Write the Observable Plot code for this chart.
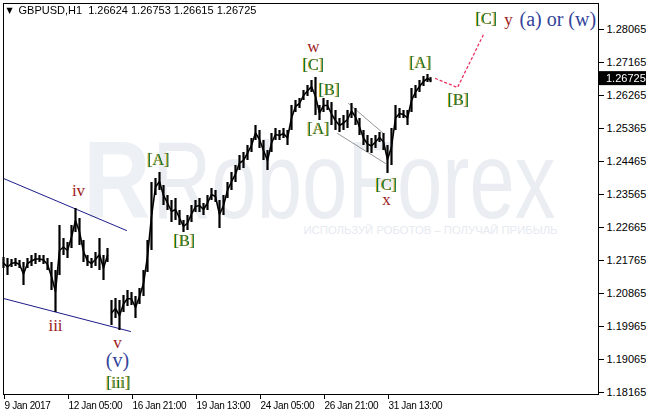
<!DOCTYPE html>
<html><head><meta charset="utf-8">
<script src="https://cdn.jsdelivr.net/npm/d3@7"></script>
<script src="https://cdn.jsdelivr.net/npm/@observablehq/plot@0.6"></script>
<style>body{margin:0;background:#fff}svg{display:block}</style>
</head><body><div id="chart"></div>
<script>
// ---- data (hour-bar index, price) ----
const barIdx = [0,4,8,12,16,20,24,28,32,36,40,44,48,52,56,60,64,68,72,76,80,84,88,92,96,100,104,
 108,112,116,120,124,128,132,136,140,144,148,152,156,160,164,168,172,176,180,184,188,192,196,200,
 204,208,212,216,220,224,228,232,236,240,244,248,252,256,260,264,268,272,276,280,284,288,292,296,
 300,304,308,312,316,320,324,328,332,336,340,344,348,352,356,360,364,368,372,376,380,384,388,392,
 396,400,404,408,412,416,420,424,427];
const barHigh = [1.21847,1.21820,1.21792,1.21820,1.21765,1.21711,1.21820,1.21901,1.21956,1.21901,1.21901,1.21820,1.21711,1.21492,1.22720,1.22365,1.22256,1.22720,1.23183,1.22911,1.22311,1.21901,1.21820,1.21983,1.22365,1.21901,1.22092,
 1.20674,1.20729,1.20674,1.20811,1.20947,1.20892,1.20783,1.21002,1.21492,1.22311,1.23892,1.24002,1.24165,1.23811,1.23538,1.23401,1.23456,1.23129,1.22856,1.22992,1.23265,1.23401,1.23456,1.23320,
 1.23538,1.23729,1.23674,1.23401,1.23538,1.23892,1.24165,1.24356,1.24629,1.24711,1.24901,1.25092,1.25447,1.25311,1.25038,1.24765,1.25229,1.25365,1.25311,1.25365,1.25311,1.25992,1.26129,1.26183,
 1.26401,1.26538,1.26674,1.26756,1.25992,1.26183,1.26129,1.26074,1.25856,1.25638,1.25720,1.25856,1.26047,1.25911,1.25638,1.25311,1.25174,1.25092,1.25174,1.25256,1.25229,1.24901,1.25365,1.25992,
 1.25911,1.25856,1.25856,1.26456,1.26538,1.26674,1.26783,1.26838,1.26753];
const barLow = [1.21547,1.21356,1.21574,1.21601,1.21547,1.21083,1.21547,1.21601,1.21656,1.21711,1.21656,1.21492,1.20947,1.20347,1.21356,1.21901,1.21820,1.22092,1.22529,1.22174,1.21711,1.21601,1.21547,1.21601,1.21492,1.21220,1.21711,
 1.19992,1.20183,1.19856,1.20347,1.20511,1.20538,1.20183,1.20565,1.20783,1.21438,1.22038,1.23538,1.23674,1.23265,1.23129,1.22801,1.22856,1.22720,1.22529,1.22583,1.22801,1.23074,1.23074,1.22992,
 1.23129,1.23401,1.23347,1.22638,1.22992,1.23456,1.23674,1.23892,1.24220,1.24274,1.24492,1.24711,1.25038,1.24820,1.24492,1.24220,1.24711,1.25038,1.25038,1.25092,1.24901,1.25311,1.25801,1.25911,
 1.26129,1.26238,1.26347,1.25720,1.25583,1.25801,1.25856,1.25447,1.25311,1.25256,1.25311,1.25365,1.25638,1.25447,1.25174,1.24901,1.24711,1.24683,1.24820,1.24983,1.24765,1.24138,1.24356,1.25311,
 1.25638,1.25638,1.25447,1.25801,1.26183,1.26347,1.26511,1.26620,1.26615];
const sessionBreakIdx = 106; // weekend gap (16 Jan open)

const priceTicks = [1.28065,1.27165,1.26265,1.25365,1.24465,1.23565,1.22665,1.21765,1.20865,1.19965,1.19065,1.18165];
const timeTickIdx = [0,64,128,192,256,320,384];
const timeTickLabels = ["9 Jan 2017","12 Jan 05:00","16 Jan 21:00","19 Jan 13:00","24 Jan 05:00","26 Jan 21:00","31 Jan 13:00"];
const lastPrice = 1.26725;
const titleText = "GBPUSD,H1\u00a0\u00a01.26624 1.26753 1.26615 1.26725";

// channel lines [x1, y1, x2, y2]
const blueLines = [[0,1.24002,123,1.22583],[0,1.20729,127,1.19829]];
const grayLines = [[345,1.26047,380,1.25229],[334,1.25229,382,1.24411]];
const forecastX = [432,454,480];
const forecastY = [1.26729,1.26483,1.27929];

// wave labels
const redLabels = ["iv","iii","v","w","x","y"];
const redX = [75,52,114,310,383,505];
const redY = [1.23674,1.19992,1.19529,1.27601,1.23429,1.28338];
const navyLabels = ["(v)","(a) or (w)"];
const navyX = [114,516];
const navyY = [1.19038,1.28338];
const greenLabels = ["[iii]","[A]","[B]","[C]","[B]","[A]","[C]","[A]","[B]","[C]"];
const greenX = [115,155,181,310,326,315,383,417,455,483];
const greenY = [1.18438,1.24520,1.22311,1.27111,1.26429,1.25365,1.23838,1.27165,1.26156,1.28365];

// ---- build ----
const bars = barIdx.map((x,i)=>({x, hi:barHigh[i], lo:barLow[i], mid:(barHigh[i]+barLow[i])/2, seg: x < sessionBreakIdx ? 0 : 1}));
const segs = (arr)=>arr.flatMap((s,k)=>[{x:s[0],y:s[1],k},{x:s[2],y:s[3],k}]);
const forecast = forecastX.map((x,i)=>({x,y:forecastY[i]}));
const red = redLabels.map((t,i)=>({t,x:redX[i],y:redY[i]}));
const navy = navyLabels.map((t,i)=>({t,x:navyX[i],y:navyY[i]}));
const green = greenLabels.map((t,i)=>({t,x:greenX[i],y:greenY[i]}));
const lblMap = new Map(timeTickIdx.map((d,i)=>[d,timeTickLabels[i]]));
const serif = "Liberation Serif";
const sans = "Liberation Sans";

const chart = Plot.plot({
  width: 646, height: 414,
  marginLeft: 3, marginRight: 48, marginTop: 3, marginBottom: 20,
  x: {domain:[0,595]},
  y: {domain:[1.181105,1.287741]},
  style: {background:"#fff", fontFamily: sans},
  marks: [
    Plot.text(["R"], {x: 80, y: 1.23892, textAnchor:"start", fontSize:110, fontWeight:900, fill:"#edf0f5", fontFamily:sans, className:"wmlogo"}),
    Plot.text(["RoboForex"], {x: 149, y: 1.23892, textAnchor:"start", fontSize:110, fill:"#eaeef3", fontFamily:sans, className:"wm"}),
    Plot.text(["ИСПОЛЬЗУЙ РОБОТОВ – ПОЛУЧАЙ ПРИБЫЛЬ"], {x: 427, y: 1.22583, fontSize:11, fill:"#e6eaf0", fontFamily:sans, className:"slogan"}),
    Plot.line(segs(blueLines), {x:"x", y:"y", z:"k", stroke:"#1c1c8a", strokeWidth:1}),
    Plot.line(segs(grayLines), {x:"x", y:"y", z:"k", stroke:"#7a7a7a", strokeWidth:0.8}),
    Plot.ruleX(bars, {x:"x", y1:"lo", y2:"hi", stroke:"#000", strokeWidth:2.2}),
    Plot.line(bars, {x:"x", y:"mid", z:"seg", stroke:"#000", strokeWidth:1.6}),
    Plot.line(forecast, {x:"x", y:"y", stroke:"#e8305f", strokeWidth:1.3, strokeDasharray:"2,3"}),
    Plot.text(red, {x:"x", y:"y", text:"t", fill:"#9b1b1b", fontSize:17, fontFamily:serif}),
    Plot.text(navy, {x:"x", y:"y", text:"t", fill:"#33449a", fontSize:20, fontFamily:serif, className:"navy"}),
    Plot.text(green, {x:"x", y:"y", text:"t", fill:"#00784a", fontSize:16, fontFamily:serif, className:"green"}),
    Plot.text([titleText], {frameAnchor:"top-left", dx:15, dy:3, fontSize:11, fill:"#000", fontFamily:sans}),
    Plot.text(["▼"], {frameAnchor:"top-left", dx:3, dy:4, fontSize:8, fill:"#000", fontFamily:"DejaVu Sans"}),
    Plot.frame({stroke:"#000", strokeWidth:1}),
    Plot.axisY({anchor:"right", ticks: priceTicks, tickFormat: d=>d.toFixed(5), tickSize:5, tickPadding:3, fontSize:11, label:null}),
    Plot.axisX({ticks: timeTickIdx, tickFormat: d=>lblMap.get(d), tickSize:5, tickPadding:2, textAnchor:"start", dx:1, fontSize:10, label:null, className:"xax"})
  ]
});

const svg = d3.select(chart);
svg.select(".wm text").attr("textLength",403).attr("lengthAdjust","spacingAndGlyphs");
svg.select(".wmlogo text").attr("textLength",67).attr("lengthAdjust","spacingAndGlyphs");
svg.select(".slogan text").attr("textLength",254).attr("lengthAdjust","spacingAndGlyphs");
svg.selectAll(".xax text").style("letter-spacing","-0.35px");
svg.selectAll(".navy text").filter((d,i,n)=>n[i].textContent.startsWith("(a)")).attr("text-anchor","start");
// gold edge on the bracketed labels (one text element each, via a filter)
const defs = svg.insert("defs",":first-child");
const f = defs.append("filter").attr("id","goldedge").attr("x","-20%").attr("y","-20%").attr("width","140%").attr("height","140%");
f.append("feFlood").attr("flood-color","#d4a80f").attr("result","gold");
f.append("feComposite").attr("in","gold").attr("in2","SourceAlpha").attr("operator","in").attr("result","goldText");
f.append("feOffset").attr("in","goldText").attr("dx",-0.6).attr("dy",0).attr("result","shift");
const fm = f.append("feMerge");
fm.append("feMergeNode").attr("in","shift");
fm.append("feMergeNode").attr("in","SourceGraphic");
svg.select(".green").attr("filter","url(#goldedge)");
// current price marker
const py = chart.scale("y").apply(lastPrice);
const g = svg.append("g").attr("text-anchor","start");
g.append("rect").attr("x",598).attr("y",py-7).attr("width",48).attr("height",14).attr("fill","#000");
g.append("text").attr("x",606).attr("y",py).attr("dy","0.35em").attr("fill","#fff").attr("font-size",11).attr("font-family",sans).text(lastPrice.toFixed(5));
document.getElementById("chart").appendChild(chart);
</script></body></html>
